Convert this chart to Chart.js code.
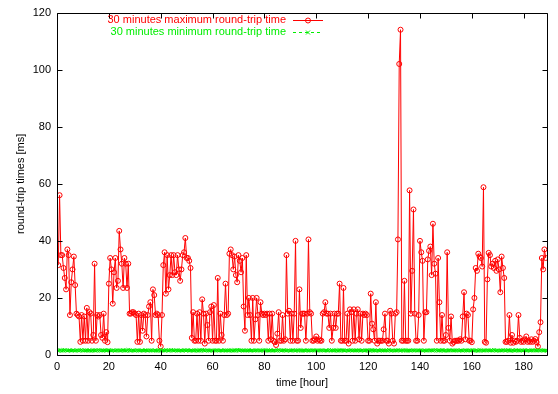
<!DOCTYPE html>
<html><head><meta charset="utf-8">
<script src="https://cdn.jsdelivr.net/npm/chart.js@4"></script>
<style>html,body{margin:0;padding:0;background:#fff}canvas{display:block}</style>
</head><body>
<canvas id="c" width="558" height="394"></canvas>
<script>
const maxSeriesName = '30 minutes maximum round-trip time';
const minSeriesName = '30 minutes minimum round-trip time';
const xTitle = 'time [hour]';
const yTitle = 'round-trip times [ms]';
const sampleStepHours = 0.5;
const maxStartHour = 0.5;
const minStartHour = 0;
const xMax = 189;
const yMax = 120;
const xTicks = [0, 20, 40, 60, 80, 100, 120, 140, 160, 180];
const yTicks = [0, 20, 40, 60, 80, 100, 120];

// 30-minute maximum round-trip times [ms], from hour 0.5
const maxRtt = [
  31.5,56,35,35,30.5,27,23,37,35,14,
  25.5,30,34.5,24.5,14.5,14,13.5,4.6,14,5,
  13.5,5,16.5,5,15,14.5,5,7,32,5,
  14,13.5,14,7,6,14.5,5,8,4.5,25,
  34,30,18,29,34,23.5,26,43.5,37,32,
  23.5,34,32,23.5,32,14.5,
  14.5,15,15,14.5,14,4.6,14.5,4.6,14,8.5,
  14.5,14,6.5,14,17,18.5,5,23,21,14,
  14.5,14,5,3,14,31.5,36,21.5,35,23,
  28,35,28,35,29,28,35,30,26,30,
  35,36,41,34,34,33,30.5,6,15,5,
  5,14.5,5,15,5,19.5,14.5,4,14.5,10.5,
  5,15,17,5,17.5,5,
  5,27,5,14.5,7,5,14,25,14,14.5,
  35.5,37,35,30,34.5,28,25.5,35,33,29,
  34,17,8.5,35,14,20,14,5,20,5,
  12.5,20,14,5,18.5,14.5,14,14.5,14,14.5,
  5,14.5,5.5,14.5,5,4.5,3.5,7.5,15,5,
  5,14,5,5.5,35,14.5,15.5,5,14.5,5,
  14.5,40,
  5,5,23,9.5,14.5,14.5,14.5,5,14.5,40.5,
  15,14.5,5,5,5.5,6.5,5,5.5,5,5,
  14.5,15,18.5,14.5,14.5,9.5,14.5,5,9.5,14.5,
  9.5,14.5,14.5,25,5,5,23.5,5,5,14.5,
  4,16,15,5,16,5,14.5,16,5.5,14.5,
  5,14.5,14,14.5,14,5,5,21.5,11,9,
  5,18.5,4,5,5,5,5,9,
  14.5,5,5,4,15.5,14.5,5,4,14.5,15,
  40.5,102,114,5,5,26,5,5,5,57.7,
  14.5,29.5,51,14.5,5,5,14,40,36,33,
  5,15,15,33.5,36.5,38,28,46,32,28.5,
  5,34,18.5,5,14,5,5,7,36,9.5,
  5,13.5,4,4.5,5,5,5,5,5.5,5,
  13.5,22,5.5,14.5,
  14,5,5,4.5,16,20,30.5,29.5,35.5,34.5,
  34,31,58.8,4.6,4.3,26.5,35.8,35,31,32,
  30.5,33,29.5,33.5,30,22,34.5,30.5,27,4.6,
  4.6,5,14,4.3,7,4.3,5,4.6,5,14,
  6,4.6,5,4.6,5.5,6.5,4.6,5,4.6,5.5,
  4.6,5,5.6,4.5,3,8,11.5,34,30,37,
  34
];

// 30-minute minimum round-trip times [ms], from hour 0
const minRtt = [
  1.6,1.5,1.7,1.6,1.5,1.6,1.8,1.6,1.5,1.6,1.7,1.5,1.6,1.6,1.5,1.7,1.6,1.5,1.6,1.8,
  1.5,1.6,1.6,1.7,1.5,1.6,1.5,1.6,1.7,1.6,1.5,1.6,1.8,1.6,1.5,1.6,1.6,1.7,1.5,1.6,
  1.7,1.6,1.5,1.6,1.6,1.5,1.7,1.6,1.6,1.5,1.6,1.7,1.6,1.5,1.6,1.8,1.6,1.5,1.6,1.6,
  1.5,1.6,1.7,1.6,1.5,1.6,1.6,1.5,1.7,1.6,1.5,1.6,1.6,1.7,1.5,1.6,1.6,1.5,1.6,1.7,
  1.6,1.5,1.6,1.6,1.7,1.6,1.5,1.6,1.8,1.6,1.5,1.6,1.7,1.6,1.5,1.6,1.6,1.5,1.7,1.6,
  1.6,1.7,1.5,1.6,1.6,1.5,1.6,1.7,1.6,1.5,1.6,1.6,1.8,1.6,1.5,1.6,1.7,1.6,1.5,1.6,
  1.5,1.6,1.6,1.7,1.6,1.5,1.6,1.6,1.5,1.7,1.6,1.6,1.5,1.6,1.7,1.6,1.5,1.6,1.6,1.8,
  1.6,1.5,1.7,1.6,1.6,1.5,1.6,1.6,1.7,1.5,1.6,1.6,1.5,1.6,1.7,1.6,1.6,1.5,1.6,1.6,
  1.7,1.6,1.5,1.6,1.6,1.7,1.5,1.6,1.6,1.5,1.6,1.8,1.6,1.5,1.6,1.7,1.6,1.5,1.6,1.6,
  1.5,1.6,1.7,1.6,1.5,1.6,1.6,1.7,1.6,1.5,1.6,1.6,1.5,1.7,1.6,1.6,1.5,1.6,1.7,1.6,
  1.6,1.5,1.6,1.6,1.7,1.6,1.5,1.6,1.6,1.5,1.8,1.6,1.6,1.5,1.6,1.7,1.6,1.5,1.6,1.6,
  1.7,1.6,1.5,1.6,1.6,1.5,1.6,1.7,1.6,1.6,1.5,1.6,1.6,1.7,1.5,1.6,1.6,1.5,1.6,1.7,
  1.6,1.5,1.6,1.7,1.6,1.6,1.5,1.6,1.6,1.5,1.7,1.6,1.6,1.5,1.6,1.6,1.8,1.6,1.5,1.6,
  1.5,1.6,1.6,1.7,1.6,1.5,1.6,1.6,1.7,1.6,1.5,1.6,1.6,1.5,1.6,1.7,1.6,1.6,1.5,1.6,
  1.6,1.7,1.5,1.6,1.6,1.5,1.6,1.6,1.7,1.6,1.5,1.6,1.8,1.6,1.5,1.6,1.6,1.7,1.6,1.5,
  1.6,1.5,1.6,1.7,1.6,1.6,1.5,1.6,1.6,1.7,1.5,1.6,1.6,1.5,1.6,1.7,1.6,1.5,1.6,1.6,
  1.7,1.6,1.5,1.6,1.6,1.5,1.7,1.6,1.6,1.5,1.6,1.6,1.7,1.6,1.5,1.6,1.6,1.8,1.6,1.5,
  1.6,1.5,1.6,1.6,1.7,1.6,1.5,1.6,1.7,1.6,1.5,1.6,1.6,1.5,1.7,1.6,1.6,1.5,1.6,1.6,
  1.6,1.7,1.5,1.6,1.6,1.5,1.6,1.7,1.6,1.6,1.5,1.6,1.6,1.7,1.6,1.5,1.6,1.6,1.5
];

const toPoints = (vals, start) => vals.map((v, i) => ({x: start + i * sampleStepHours, y: v}));

const RED = '#ff0000';
const GREEN = '#00ee00';
const FONT = {family: '"Liberation Sans", Arial, sans-serif', size: 11};

const framePlugin = {
  id: 'frame',
  afterDraw(chart) {
    const {ctx, chartArea: a, scales: {x, y}} = chart;
    const L = Math.round(a.left) + 0.5, R = Math.round(a.right) + 0.5;
    const T = Math.round(a.top) + 0.5, B = Math.round(a.bottom) + 0.5;
    ctx.save();
    ctx.strokeStyle = '#000';
    ctx.lineWidth = 1;
    ctx.beginPath();
    ctx.rect(L, T, R - L, B - T);
    const tl = 5;
    xTicks.forEach(v => {
      const p = Math.round(x.getPixelForValue(v)) + 0.5;
      ctx.moveTo(p, B); ctx.lineTo(p, B - tl);
      ctx.moveTo(p, T); ctx.lineTo(p, T + tl);
    });
    yTicks.forEach(v => {
      const p = Math.round(y.getPixelForValue(v)) + 0.5;
      ctx.moveTo(L, p); ctx.lineTo(L + tl, p);
      ctx.moveTo(R, p); ctx.lineTo(R - tl, p);
    });
    ctx.stroke();

    // key
    ctx.font = '11px "Liberation Sans", Arial, sans-serif';
    ctx.textAlign = 'right';
    ctx.textBaseline = 'middle';
    const textRight = 286, s0 = 293, s1 = 323, sm = 308;
    const r1 = 20, r2 = 32;
    ctx.fillStyle = RED;
    ctx.fillText(maxSeriesName, textRight, r1);
    ctx.strokeStyle = RED;
    ctx.beginPath();
    ctx.moveTo(s0, r1 + 0.5); ctx.lineTo(s1, r1 + 0.5);
    ctx.stroke();
    ctx.beginPath();
    ctx.arc(sm, r1 + 0.5, 2.5, 0, Math.PI * 2);
    ctx.stroke();
    ctx.fillStyle = GREEN;
    ctx.fillText(minSeriesName, textRight, r2);
    ctx.strokeStyle = GREEN;
    ctx.setLineDash([3, 3]);
    ctx.beginPath();
    ctx.moveTo(s0, r2 + 0.5); ctx.lineTo(s1, r2 + 0.5);
    ctx.stroke();
    ctx.setLineDash([]);
    ctx.beginPath();
    ctx.moveTo(sm - 2, r2 - 1.5); ctx.lineTo(sm + 2, r2 + 2.5);
    ctx.moveTo(sm + 2, r2 - 1.5); ctx.lineTo(sm - 2, r2 + 2.5);
    ctx.stroke();
    ctx.restore();
  }
};

new Chart(document.getElementById('c'), {
  type: 'line',
  data: {
    datasets: [
      {
        label: minSeriesName,
        data: toPoints(minRtt, minStartHour),
        borderColor: GREEN,
        borderWidth: 1,
        borderDash: [3, 3],
        pointStyle: 'crossRot',
        pointRadius: 2.5,
        pointBorderWidth: 1,
        pointBorderColor: GREEN,
        pointBackgroundColor: GREEN,
        tension: 0,
        fill: false,
        order: 0
      },
      {
        label: maxSeriesName,
        data: toPoints(maxRtt, maxStartHour),
        borderColor: RED,
        borderWidth: 1,
        pointStyle: 'circle',
        pointRadius: 2.5,
        pointBorderWidth: 1,
        pointBorderColor: RED,
        pointBackgroundColor: 'rgba(0,0,0,0)',
        tension: 0,
        fill: false,
        order: 1
      }
    ]
  },
  options: {
    responsive: false,
    animation: false,
    devicePixelRatio: 1,
    layout: {padding: {left: 0, right: 11, top: 10, bottom: 0}},
    plugins: {legend: {display: false}, tooltip: {enabled: false}},
    scales: {
      x: {
        type: 'linear',
        min: 0,
        max: xMax,
        afterBuildTicks: s => { s.ticks = xTicks.map(v => ({value: v})); },
        afterFit: s => { s.height = 39; },
        grid: {display: false, drawTicks: false},
        border: {display: false},
        ticks: {font: FONT, color: '#000', padding: 5, maxRotation: 0, autoSkip: false},
        title: {display: true, text: xTitle, font: FONT, color: '#000', padding: {top: 0, bottom: 4}}
      },
      y: {
        type: 'linear',
        min: 0,
        max: yMax,
        afterBuildTicks: s => { s.ticks = yTicks.map(v => ({value: v})); },
        afterFit: s => { s.width = 57; },
        grid: {display: false, drawTicks: false},
        border: {display: false},
        ticks: {font: FONT, color: '#000', padding: 6},
        title: {display: true, text: yTitle, font: FONT, color: '#000', padding: {top: 14, bottom: 0}}
      }
    }
  },
  plugins: [framePlugin]
});
</script>
</body></html>
